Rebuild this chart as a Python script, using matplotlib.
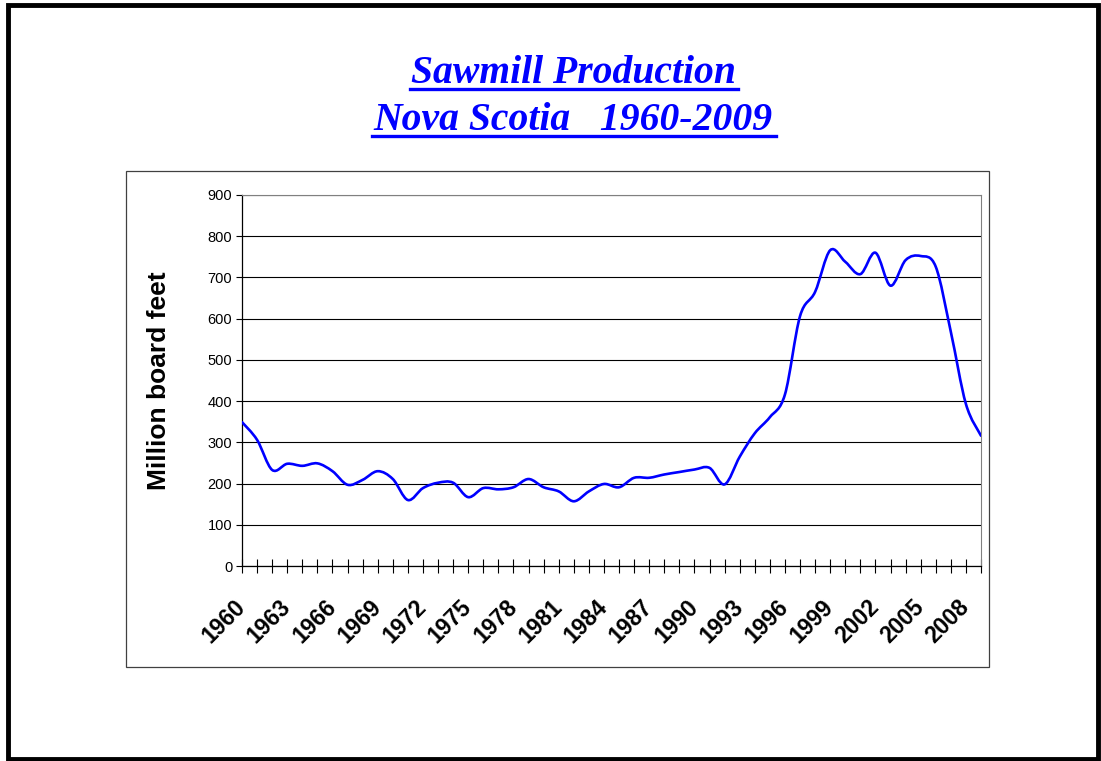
import numpy as np
import matplotlib
matplotlib.use('Agg')
import matplotlib.pyplot as plt
import matplotlib.transforms as mtransforms
from matplotlib.path import Path
from matplotlib.patches import PathPatch, Rectangle
from matplotlib.lines import Line2D

plt.rcParams['font.family'] = ['Liberation Sans', 'DejaVu Sans']

years = list(range(1960, 2010))
production = [349, 306, 233, 248, 243, 249, 230, 197, 209, 230,
              211, 160, 189, 202, 202, 167, 189, 186, 191, 211,
              191, 181, 157, 181, 199, 191, 214, 214, 222, 228,
              234, 238, 198, 265, 322, 361, 416, 606, 665, 766,
              738, 708, 760, 680, 742, 752, 726, 568, 393, 316]
tick_labels = [str(y) if (y - 1960) % 3 == 0 else '' for y in years]
title_1 = 'Sawmill Production'
title_2 = 'Nova Scotia   1960-2009'
ylabel = 'Million board feet'

W, H = 1101, 761
fig = plt.figure(figsize=(W / 100, H / 100), dpi=100)
fig.patch.set_facecolor('white')

# outer frame and chart-area box
fig.add_artist(Rectangle((7.5 / W, 1 - 758.5 / H), (1098 - 7.5) / W, (758.5 - 5) / H,
                         transform=fig.transFigure, fill=False, edgecolor='black', linewidth=3.5))
fig.add_artist(Rectangle((126 / W, 1 - 667 / H), (989 - 126) / W, (667 - 171) / H,
                         transform=fig.transFigure, fill=False, edgecolor='#404040', linewidth=0.9))

ax = fig.add_axes([242 / W, 1 - 566 / H, (981 - 242) / W, (566 - 195) / H])

# smoothed line (Excel-like), bezier segments through the data points
x = np.array(years, dtype=float)
y = np.array(production, dtype=float)
verts = [(x[0], y[0])]
codes = [Path.MOVETO]
n = len(x)
for i in range(n - 1):
    p0 = (x[i - 1], y[i - 1]) if i > 0 else (x[i], y[i])
    p1 = (x[i], y[i])
    p2 = (x[i + 1], y[i + 1])
    p3 = (x[i + 2], y[i + 2]) if i + 2 < n else (x[i + 1], y[i + 1])
    c1 = (p1[0] + (p2[0] - p0[0]) / 6, p1[1] + (p2[1] - p0[1]) / 6)
    c2 = (p2[0] - (p3[0] - p1[0]) / 6, p2[1] - (p3[1] - p1[1]) / 6)
    verts += [c1, c2, p2]
    codes += [Path.CURVE4] * 3
ax.add_patch(PathPatch(Path(verts, codes), facecolor='none', edgecolor='#0000FF',
                       linewidth=1.9, zorder=3, capstyle='round', joinstyle='round'))

ax.set_xlim(1960, 2009)
ax.set_ylim(0, 900)
ax.set_yticks(range(0, 901, 100))
ax.set_xticks(years)
ax.set_xticklabels(tick_labels, rotation=45, ha='right', va='center',
                   rotation_mode='anchor', fontsize=16.5, fontweight='bold')
shift = mtransforms.ScaledTranslation(-6 / 100, 0, fig.dpi_scale_trans)
for lab in ax.get_xticklabels():
    lab.set_transform(lab.get_transform() + shift)
ax.tick_params(axis='x', direction='inout', length=10, width=0.8, pad=22)
ax.tick_params(axis='y', direction='out', length=4, width=0.8, pad=3, labelsize=10.5)
ax.yaxis.grid(True, color='black', linewidth=0.8)
ax.set_axisbelow(True)
for s in ['top', 'right']:
    ax.spines[s].set_color('#808080')
for s in ['left', 'bottom']:
    ax.spines[s].set_color('black')
    ax.spines[s].set_linewidth(0.9)

ax.set_ylabel(ylabel, fontsize=19, fontweight='bold')
ax.yaxis.set_label_coords(-0.096, 0.5)

# title with underline
tfont = dict(family='Liberation Serif', weight='bold', style='italic', size=28.5, color='#0000FF')
t1 = fig.text(573 / W, 1 - 83 / H, title_1, ha='center', va='baseline', **tfont)
t2 = fig.text(573 / W, 1 - 130 / H, title_2, ha='center', va='baseline', **tfont)
fig.canvas.draw()
r = fig.canvas.get_renderer()
for t, uy in [(t1, 88.5), (t2, 136.0)]:
    bb = t.get_window_extent(r)
    fig.add_artist(Line2D([(bb.x0 - 1) / W, (bb.x1 + 3) / W], [1 - uy / H, 1 - uy / H],
                          transform=fig.transFigure, color='#0000FF', linewidth=2.4))

fig.savefig('out.png', dpi=100)
